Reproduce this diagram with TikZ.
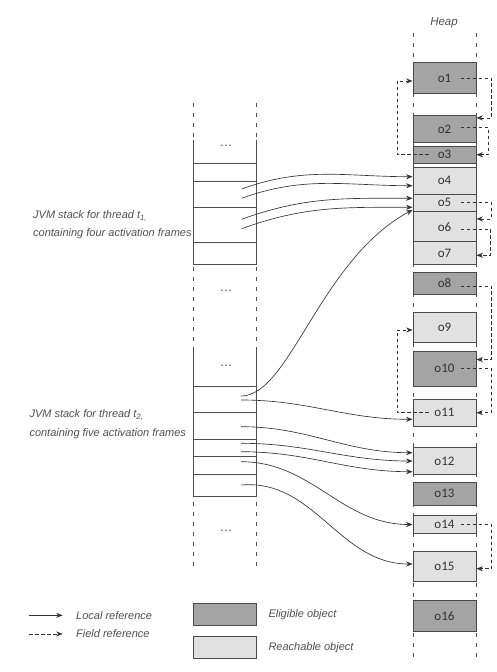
\documentclass[tikz,border=0pt]{standalone}
\usepackage{fontspec}
\setmainfont{Liberation Sans}
\newfontfamily\boxfont{Carlito}
\usetikzlibrary{arrows.meta,calc}
\definecolor{eligfill}{HTML}{A4A4A4}
\definecolor{reachfill}{HTML}{E1E1E1}
\definecolor{boxline}{HTML}{4A4A4A}
\definecolor{stackline}{HTML}{4F4F4F}
\definecolor{arrowc}{HTML}{333333}
\definecolor{txt}{HTML}{333333}
\definecolor{lbltxt}{HTML}{505050}
\begin{document}
\begin{tikzpicture}[x=1pt,y=-1pt,
  obj/.style={draw=boxline, line width=0.8pt, minimum width=63pt, inner sep=0pt,
    font=\boxfont\fontsize{13}{13}\selectfont, text=txt},
  elig/.style={obj, fill=eligfill},
  reach/.style={obj, fill=reachfill},
  stackframe/.style={draw=stackline, line width=0.8pt, minimum width=63pt, inner sep=0pt},
  stackside/.style={draw=stackline, line width=0.8pt},
  guide/.style={draw=stackline, line width=0.8pt, dash pattern=on 4pt off 6pt},
  local/.style={draw=arrowc, line width=0.65pt, -{Stealth[length=6.5pt,width=5pt]}},
  field/.style={draw=arrowc, line width=0.65pt, dash pattern=on 3.5pt off 2.5pt, -{Stealth[length=6.5pt,width=5pt]}},
  lbl/.style={font=\itshape\fontsize{11}{17.3}\selectfont, text=lbltxt, inner sep=0pt},
  dots/.style={font=\fontsize{13}{13}\selectfont, text=stackline, inner sep=0pt}
]
\useasboundingbox (0,0) rectangle (496,672);

% ---------- heap ----------
\node[lbl, font=\itshape\fontsize{11.5}{12}\selectfont] (heap) at (444,23) {Heap};
\draw[guide] (413,33) -- (413,660);
\draw[guide] (476,33) -- (476,660);

\node[elig,  minimum height=30.6pt] (o1)  at (444.5,78)    {o1};
\node[elig,  minimum height=26.6pt] (o2)  at (444.5,129)   {o2};
\node[elig,  minimum height=17.3pt] (o3)  at (444.5,154.7) {o3};
\node[reach, minimum height=26.7pt] (o4)  at (444.5,180.7) {o4};
\node[reach, minimum height=17.7pt] (o5)  at (444.5,202.8) {o5};
\node[reach, minimum height=30pt]   (o6)  at (444.5,226.7) {o6};
\node[reach, minimum height=22.6pt] (o7)  at (444.5,253)   {o7};
\node[elig,  minimum height=21.3pt] (o8)  at (444.5,283.3) {o8};
\node[reach, minimum height=30.4pt] (o9)  at (444.5,327.5) {o9};
\node[elig,  minimum height=34.3pt] (o10) at (444.5,368.8) {o10};
\node[reach, minimum height=26.7pt] (o11) at (444.5,412.7) {o11};
\node[reach, minimum height=26.6pt] (o12) at (444.5,461)   {o12};
\node[elig,  minimum height=22.3pt] (o13) at (444.5,493.8) {o13};
\node[reach, minimum height=17.6pt] (o14) at (444.5,524.5) {o14};
\node[reach, minimum height=30pt]   (o15) at (444.5,566)   {o15};
\node[elig,  minimum height=30.3pt] (o16) at (444.5,615.8) {o16};

% ---------- field references ----------
\draw[field] ([xshift=16pt]o1.center) -| ([xshift=15pt,yshift=-2.6pt]o2.north east) -- ([yshift=-2.6pt]o2.north east);
\draw[field] ([xshift=16pt,yshift=1.3pt]o2.center) -| ([xshift=12.3pt]o3.east) -- (o3.east);
\draw[field] ([xshift=-16pt]o3.center) -| ([xshift=-15.7pt,yshift=-3pt]o1.west) -- ([yshift=-3pt]o1.west);
\draw[field] ([xshift=16pt]o5.center) -| ([xshift=15pt,yshift=-7.6pt]o6.north east) -- ([yshift=-7.6pt]o6.north east);
\draw[field] ([xshift=16pt,yshift=-2.3pt]o6.center) -| ([xshift=14pt,yshift=-2.3pt]o7.east) -- ([yshift=-2.3pt]o7.east);
\draw[field] ([xshift=16pt,yshift=-2.7pt]o8.center) -| ([xshift=15pt,yshift=-8.3pt]o10.north east) -- ([yshift=-8.3pt]o10.north east);
\draw[field] ([xshift=16pt]o10.center) -| ([xshift=15pt]o11.east) -- (o11.east);
\draw[field] ([xshift=-16pt]o11.center) -| ([xshift=-15.7pt,yshift=-2.5pt]o9.west) -- ([yshift=-2.5pt]o9.west);
\draw[field] ([xshift=16pt]o14.center) -| ([xshift=15pt,yshift=-2.7pt]o15.east) -- ([yshift=-2.7pt]o15.east);

% ---------- stack 1 ----------
\draw[guide] (193.3,102.7) -- (193.3,140);
\draw[guide] (256.3,102.7) -- (256.3,140);
\draw[stackside] (193.3,140) -- (193.3,163.3);
\draw[stackside] (256.3,140) -- (256.3,163.3);
\node[dots] (d1) at (226,146) {\dots};
\node[stackframe, minimum height=17.7pt] (f11) at (224.8,172.2) {};
\node[stackframe, minimum height=26.3pt] (f12) at (224.8,194.2) {};
\node[stackframe, minimum height=35pt]   (f13) at (224.8,224.8) {};
\node[stackframe, minimum height=21.7pt] (f14) at (224.8,253.2) {};

% between stacks
\draw[guide] (193.3,267) -- (193.3,350);
\draw[guide] (256.3,267) -- (256.3,350);
\node[dots] (d2) at (226,290.5) {\dots};

% ---------- stack 2 ----------
\draw[stackside] (193.3,350) -- (193.3,386.7);
\draw[stackside] (256.3,350) -- (256.3,386.7);
\node[dots] (d3) at (226,365.5) {\dots};
\node[stackframe, minimum height=26pt]   (f21) at (224.8,399.7) {};
\node[stackframe, minimum height=26.6pt] (f22) at (224.8,426)   {};
\node[stackframe, minimum height=17.4pt] (f23) at (224.8,448)   {};
\node[stackframe, minimum height=17.3pt] (f24) at (224.8,465.4) {};
\node[stackframe, minimum height=22pt]   (f25) at (224.8,485)   {};
\draw[guide] (193.3,501.7) -- (193.3,570);
\draw[guide] (256.3,501.7) -- (256.3,570);
\node[dots] (d4) at (226,530.5) {\dots};

% stack labels
\node[lbl, align=left, anchor=west] (lab1) at (33,224.7)
  {JVM stack for thread t\textsubscript{1,}\\containing four activation frames};
\node[lbl, align=left, anchor=west, font=\itshape\fontsize{11}{18.3}\selectfont] (lab2) at (29.3,424.2)
  {JVM stack for thread t\textsubscript{2,}\\containing five activation frames};

% ---------- local references ----------
\coordinate (a1) at (241.7,189);
\coordinate (a2) at (241.7,198.3);
\coordinate (a3) at (241.7,219.3);
\coordinate (a4) at (241.7,228.7);
\coordinate (b1) at (241,396);
\coordinate (b2) at (241,400);
\coordinate (b3) at (241,426.7);
\coordinate (b4) at (241,443.3);
\coordinate (b5) at (241,451.7);
\coordinate (b6) at (241,461.7);
\coordinate (b7) at (241,485);

\draw[local] (a1) to[out=20,in=180] ([yshift=4pt]o4.west);
\draw[local] (a2) to[out=20,in=180] ([yshift=-5pt]o4.west);
\draw[local] (a3) to[out=20,in=180] ([yshift=4.5pt]o5.west);
\draw[local] (a4) to[out=20,in=180] ([yshift=-4.5pt]o5.west);
\draw[local] (b1) .. controls +(49,0) and +(-93,50) .. ([yshift=1.5pt]o6.north west);
\draw[local] (b2) to[out=0,in=180] ([yshift=-6.6pt]o11.west);
\draw[local] (b3) to[out=0,in=180] ([yshift=8.3pt]o12.west);
\draw[local] (b4) to[out=0,in=180] (o12.west);
\draw[local] (b5) to[out=0,in=180] ([yshift=-10.7pt]o12.west);
\draw[local] (b6) to[out=0,in=180] (o14.west);
\draw[local] (b7) to[out=5,in=180] ([yshift=2pt]o15.west);

% ---------- legend ----------
\coordinate (l1s) at (29.3,615.3);
\coordinate (l1e) at (62.7,615.3);
\coordinate (l2s) at (29.3,634);
\coordinate (l2e) at (62.7,634);
\draw[local] (l1s) -- (l1e);
\draw[field] (l2s) -- (l2e);
\node[lbl, anchor=west] (t1) at (76,615.3) {Local reference};
\node[lbl, anchor=west] (t2) at (76,634) {Field reference};
\node[elig, minimum width=62.7pt, minimum height=21.7pt] (le) at (224.7,614.2) {};
\node[reach, minimum width=62.7pt, minimum height=22.3pt] (lr) at (224.7,647.2) {};
\node[lbl, anchor=west] (t3) at (268.3,615) {Eligible object};
\node[lbl, anchor=west] (t4) at (268.3,647.3) {Reachable object};
\end{tikzpicture}
\end{document}
